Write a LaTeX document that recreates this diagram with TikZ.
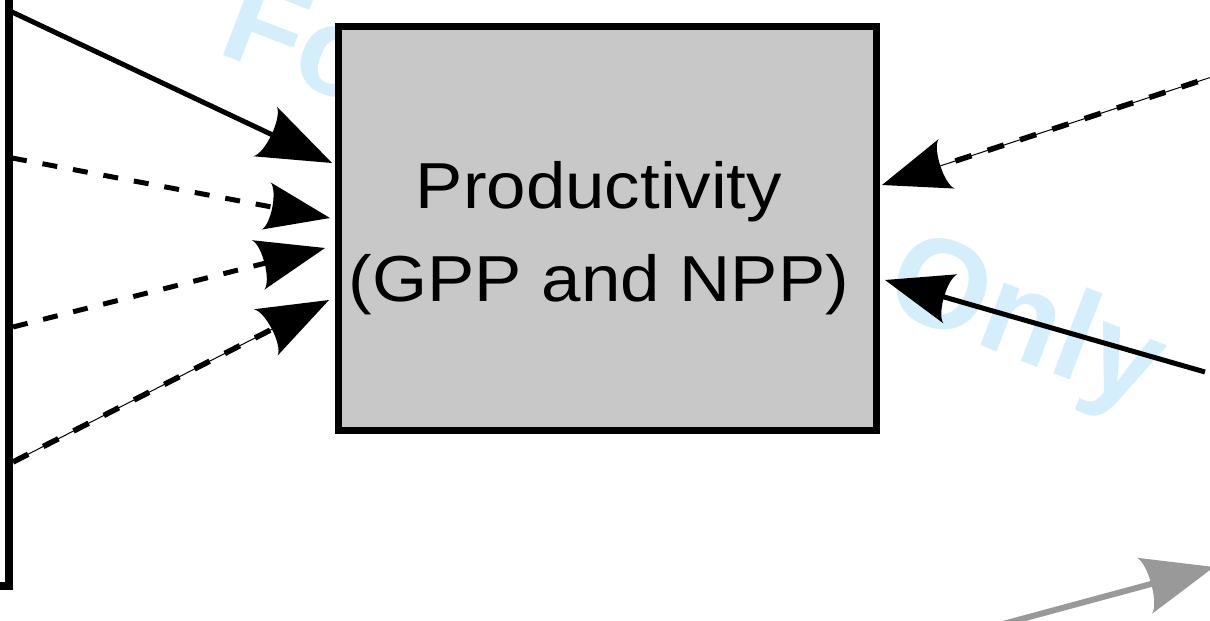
\documentclass[tikz,border=0pt]{standalone}
\usepackage{fontspec}
\setmainfont{Liberation Sans}
\newfontfamily\labelfont[FakeStretch=1.09]{Liberation Sans}
\usetikzlibrary{arrows.meta}
\definecolor{boxgray}{RGB}{200,200,200}
\definecolor{wmblue}{RGB}{212,239,251}
\definecolor{arrowgray}{RGB}{153,153,153}
\pgfdeclarearrow{
  name = Barb,
  parameters = {\the\pgfarrowlength,\the\pgfarrowwidth},
  setup code = {
    \pgfarrowssettipend{0pt}
    \pgfarrowssetlineend{-0.72\pgfarrowlength}
    \pgfarrowsupperhullpoint{0pt}{0pt}
    \pgfarrowsupperhullpoint{-\pgfarrowlength}{0.5\pgfarrowwidth}
    \pgfarrowshullpoint{-0.9\pgfarrowlength}{0pt}
    \pgfarrowssavethe\pgfarrowlength
    \pgfarrowssavethe\pgfarrowwidth
  },
  drawing code = {
    \pgfpathmoveto{\pgfpointorigin}
    \pgfpathlineto{\pgfpoint{-\pgfarrowlength}{0.5\pgfarrowwidth}}
    \pgfpathcurveto{\pgfpoint{-0.87\pgfarrowlength}{0.36\pgfarrowwidth}}
                   {\pgfpoint{-0.87\pgfarrowlength}{-0.36\pgfarrowwidth}}
                   {\pgfpoint{-\pgfarrowlength}{-0.5\pgfarrowwidth}}
    \pgfpathclose
    \pgfusepathqfill
  },
  defaults = {length=70pt, width=52pt}
}
\tikzset{
  conn/.style={line width=5pt, -{Barb[#1]}},
  conn/.default={},
  dashconn/.style={line width=5pt, dash pattern=on 15pt off 16pt, -{Barb[#1]}},
  dashconn/.default={},
  dotconn/.style={line width=1pt, -{Barb[#1]},
    postaction={draw, arrows=-, line width=5.5pt, dash pattern=on 17pt off 17pt, shorten >=30pt}},
  dotconn/.default={},
  frame/.style={draw, inner sep=0pt},
}
\begin{document}
\begin{tikzpicture}[x=1pt,y=-1pt]
\useasboundingbox (0,0) rectangle (1210,621);
\clip (0,0) rectangle (1210,621);
\fill[white] (0,0) rectangle (1210,621);
% watermark
\node[font=\bfseries\fontsize{127}{127}\selectfont, text=wmblue, rotate=-21,
      anchor=base west, inner sep=0pt] (wm) at (215,52) {For Review Only};
% left frame (partly outside)
\node[frame, line width=8pt, minimum width=309pt, minimum height=686pt] (src) at (-145.5,243) {};
% main box
\node[frame, line width=7pt, fill=boxgray, minimum width=538pt, minimum height=403.5pt] (box) at (607.5,228.25) {};
\node[font=\labelfont\fontsize{65}{93}\selectfont, align=center, inner sep=0pt] (lbl) at (599,238.5) {Productivity\\(GPP and NPP)};
% connector ends
\coordinate (s1) at (12,12);    \coordinate (t1) at (332,163);
\coordinate (s2) at (12,158);   \coordinate (t2) at (330,218);
\coordinate (s3) at (13,327);   \coordinate (t3) at (325,248);
\coordinate (s4) at (13,462);   \coordinate (t4) at (329,300);
\coordinate (s5) at (1230,71);  \coordinate (t5) at (882,185);
\coordinate (s6) at (1205,372); \coordinate (t6) at (885,280);
\coordinate (s7) at (1003,624); \coordinate (t7) at (1214,567);
\draw[conn={length=74pt, width=55pt}] (s1) -- (t1);
\draw[dashconn={length=65pt, width=48pt}] (s2) -- (t2);
\draw[dashconn={length=69pt, width=51pt}] (s3) -- (t3);
\draw[dotconn={length=71pt, width=52pt}] (s4) -- (t4);
\draw[dotconn={length=68pt, width=52pt}] (s5) -- (t5);
\draw[conn={length=68pt, width=51pt}] (s6) -- (t6);
\draw[conn={length=72pt, width=58pt}, draw=arrowgray, line width=6pt] (s7) -- (t7);
\end{tikzpicture}
\end{document}
